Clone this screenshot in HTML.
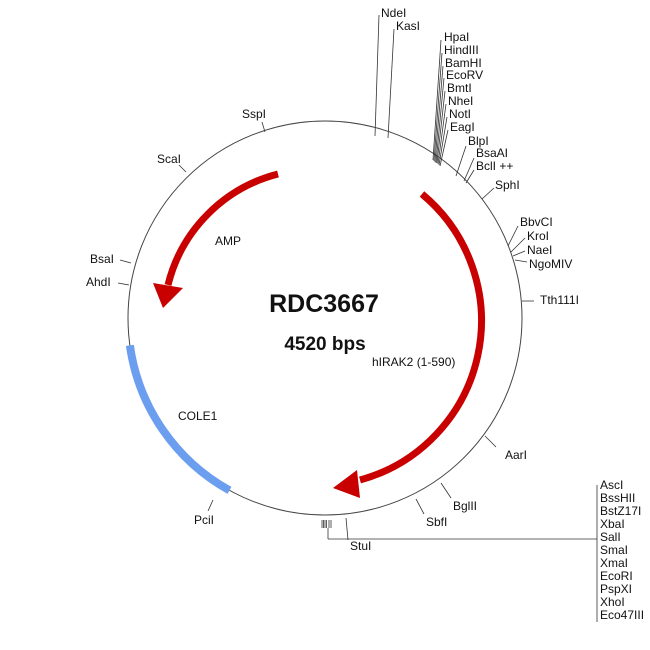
<!DOCTYPE html>
<html><head><meta charset="utf-8"><style>
html,body{margin:0;padding:0;background:#fff}
svg{display:block}
text{font-family:"Liberation Sans",Arial,sans-serif;font-size:12px;fill:#111}
</style></head><body>
<svg width="650" height="650" viewBox="0 0 650 650" xmlns="http://www.w3.org/2000/svg">
<circle cx="325" cy="318" r="197" fill="none" stroke="#444" stroke-width="1"/>
<path d="M 129.9 345.4 A 197 197 0 0 0 229.5 490.4" fill="none" stroke="#6c9ef0" stroke-width="8"/>
<path d="M 278 174 A 152 152 0 0 0 168 285" fill="none" stroke="#c80000" stroke-width="7"/>
<polygon points="153,283 183,288 163,308" fill="#c80000"/>
<path d="M 422 194 A 165 165 0 0 1 360 480" fill="none" stroke="#c80000" stroke-width="7"/>
<polygon points="333,488 357,470 360,498" fill="#c80000"/>
<g fill="none" stroke="#333" stroke-width="0.8">
<polyline points="379,15 375,136"/>
<polyline points="394,29 388,138"/>
<polyline points="441,40 433,160"/>
<polyline points="442,53 434,161"/>
<polyline points="443,66 435,162"/>
<polyline points="444,78 436,163"/>
<polyline points="445,91 437,163"/>
<polyline points="446,104 438,164"/>
<polyline points="447,117 439,165"/>
<polyline points="448,130 440,166"/>
<polyline points="466,146 456,176"/>
<polyline points="474,158 464,181"/>
<polyline points="474,170 466,183"/>
<polyline points="494,188 482,199"/>
<polyline points="518,226 508,246"/>
<polyline points="525,238 511,252"/>
<polyline points="525,251 513,256"/>
<polyline points="527,262 515,260"/>
<polyline points="522,301 534,301"/>
<polyline points="485,436 496,447"/>
<polyline points="441,483 451,498"/>
<polyline points="416,499 424,514"/>
<polyline points="346,518 348,540"/>
<polyline points="328,539 597,539"/>
<polyline points="597,485 597,622"/>
<polyline points="328,528 328,539"/>
<polyline points="213,500 208,511"/>
<polyline points="118,283 129,285"/>
<polyline points="120,260 131,263"/>
<polyline points="179,165 186,172"/>
<polyline points="262,122 265,132"/>
</g>
<g stroke="#333" stroke-width="0.8">
<line x1="322" y1="520" x2="322" y2="528"/><line x1="323.5" y1="520" x2="323.5" y2="528"/>
<line x1="325" y1="520" x2="325" y2="528"/><line x1="326.5" y1="520" x2="326.5" y2="528"/>
<line x1="329" y1="520" x2="329" y2="528"/><line x1="331" y1="520" x2="331" y2="528"/>
</g>
<text x="381" y="17">NdeI</text>
<text x="396" y="30">KasI</text>
<text x="444" y="41">HpaI</text>
<text x="444" y="54">HindIII</text>
<text x="445" y="67">BamHI</text>
<text x="446" y="79">EcoRV</text>
<text x="447" y="92">BmtI</text>
<text x="448" y="105">NheI</text>
<text x="449" y="118">NotI</text>
<text x="450" y="131">EagI</text>
<text x="468" y="145">BlpI</text>
<text x="476" y="157">BsaAI</text>
<text x="476" y="170">BclI ++</text>
<text x="495" y="189">SphI</text>
<text x="520" y="226">BbvCI</text>
<text x="527" y="240">KroI</text>
<text x="527" y="254">NaeI</text>
<text x="529" y="268">NgoMIV</text>
<text x="540" y="304">Tth111I</text>
<text x="505" y="459">AarI</text>
<text x="453" y="510">BglII</text>
<text x="426" y="526">SbfI</text>
<text x="350" y="550">StuI</text>
<text x="600" y="489">AscI</text>
<text x="600" y="502">BssHII</text>
<text x="600" y="515">BstZ17I</text>
<text x="600" y="528">XbaI</text>
<text x="600" y="541">SalI</text>
<text x="600" y="554">SmaI</text>
<text x="600" y="567">XmaI</text>
<text x="600" y="580">EcoRI</text>
<text x="600" y="593">PspXI</text>
<text x="600" y="606">XhoI</text>
<text x="600" y="619">Eco47III</text>
<text x="194" y="524">PciI</text>
<text x="86" y="286">AhdI</text>
<text x="90" y="263">BsaI</text>
<text x="157" y="163">ScaI</text>
<text x="242" y="118">SspI</text>
<text x="324" y="312" text-anchor="middle" style="font-size:25px;font-weight:bold">RDC3667</text>
<text x="325" y="350" text-anchor="middle" style="font-size:19px;font-weight:bold">4520 bps</text>
<text x="215" y="245">AMP</text>
<text x="372" y="366">hIRAK2 (1-590)</text>
<text x="178" y="420">COLE1</text>
</svg>
</body></html>
